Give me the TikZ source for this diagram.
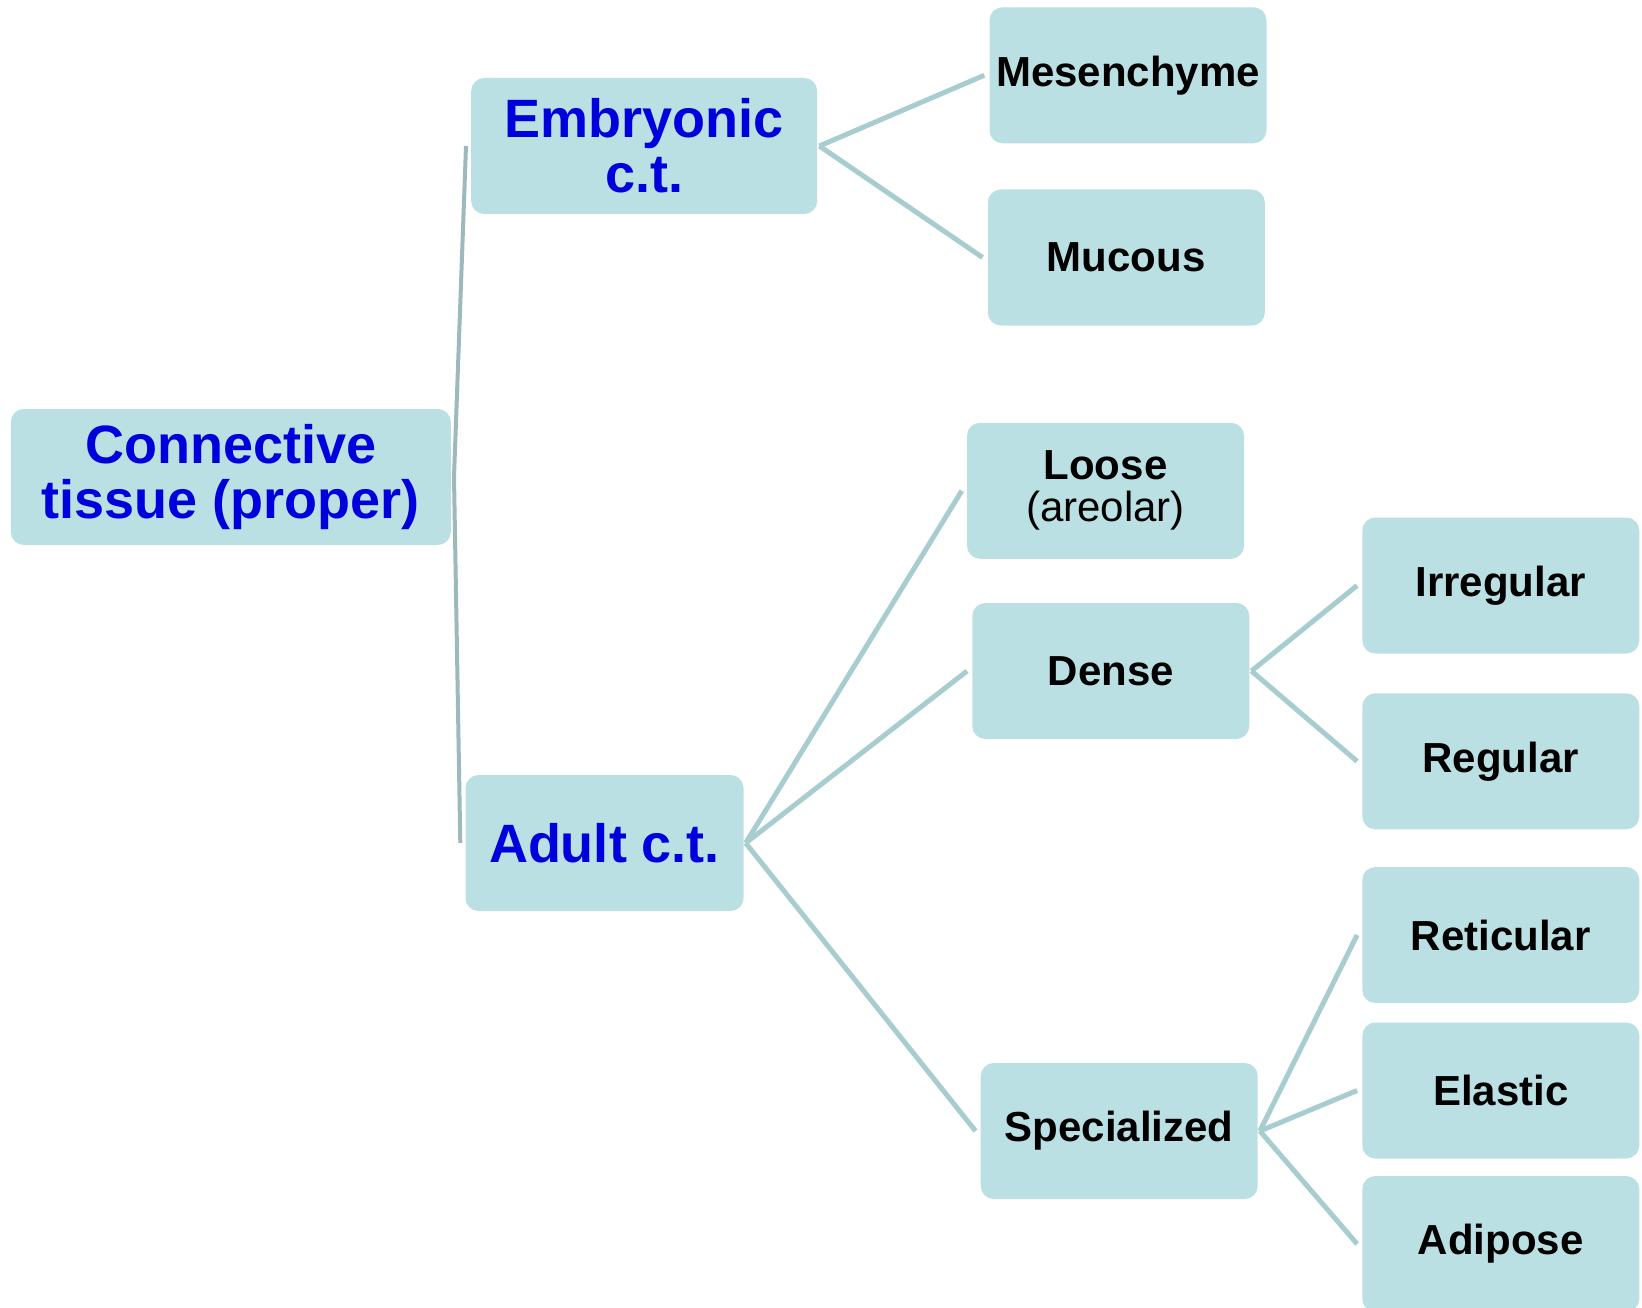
\documentclass[tikz,border=0pt]{standalone}
\usepackage{fontspec}
\setmainfont{Liberation Sans}
\definecolor{boxfill}{HTML}{BBE0E3}
\definecolor{ctblue}{HTML}{0000DC}
\definecolor{linkc}{HTML}{A8CDD0}
\definecolor{rootc}{HTML}{9DB9BC}
\begin{document}
\begin{tikzpicture}[x=1pt,y=-1pt,
  box/.style={fill=boxfill, rounded corners=13pt, inner sep=0pt, align=center,
              minimum width=277pt, minimum height=136pt},
  lvl/.style={box, text=ctblue, font=\bfseries\fontsize{54}{54}\selectfont},
  leaf/.style={box, text=black, font=\bfseries\fontsize{42}{42}\selectfont},
  link/.style={draw=linkc, line width=5pt},
  rootlink/.style={draw=rootc, line width=4pt}]
\useasboundingbox (0,0) rectangle (1642,1308);

% level 0
\node[lvl, minimum width=440pt, font=\bfseries\fontsize{54}{55}\selectfont] (root) at (230.8,477) {Connective\\tissue (proper)};
% level 1
\node[lvl, minimum width=346pt, font=\bfseries\fontsize{54}{55}\selectfont] (emb) at (644.2,146) {Embryonic\\c.t.};
\node[lvl, minimum width=278pt] (adult) at (604.5,843) {Adult c.t.};
% level 2
\node[leaf] (mes) at (1128,75.3) {Mesenchyme};
\node[leaf] (muc) at (1126.3,257.5) {Mucous};
\node[leaf] (loose) at (1105.5,490.8) {Loose\\{\mdseries (areolar)}};
\node[leaf] (dense) at (1110.8,671) {Dense};
\node[leaf] (spec) at (1119.2,1131) {Specialized};
% level 3
\node[leaf] (irr) at (1500.8,585.5) {Irregular};
\node[leaf] (reg) at (1500.8,761.3) {Regular};
\node[leaf] (ret) at (1500.8,935) {Reticular};
\node[leaf] (ela) at (1500.8,1090.5) {Elastic};
\node[leaf] (adi) at (1500.8,1244) {Adipose};

% connectors
\draw[rootlink] ([xshift=3pt]root.east) -- ([xshift=-5pt]emb.west);
\draw[rootlink] ([xshift=3pt]root.east) -- ([xshift=-5pt]adult.west);

\draw[link] ([xshift=2pt]emb.east) -- ([xshift=-5pt]mes.west);
\draw[link] ([xshift=2pt]emb.east) -- ([xshift=-5pt]muc.west);

\draw[link] ([xshift=2pt]adult.east) -- ([xshift=-5pt]loose.west);
\draw[link] ([xshift=2pt]adult.east) -- ([xshift=-5pt]dense.west);
\draw[link] ([xshift=2pt]adult.east) -- ([xshift=-5pt]spec.west);

\draw[link] ([xshift=2pt]dense.east) -- ([xshift=-5pt]irr.west);
\draw[link] ([xshift=2pt]dense.east) -- ([xshift=-5pt]reg.west);

\draw[link] ([xshift=2pt]spec.east) -- ([xshift=-5pt]ret.west);
\draw[link] ([xshift=2pt]spec.east) -- ([xshift=-5pt]ela.west);
\draw[link] ([xshift=2pt]spec.east) -- ([xshift=-5pt]adi.west);
\end{tikzpicture}
\end{document}
